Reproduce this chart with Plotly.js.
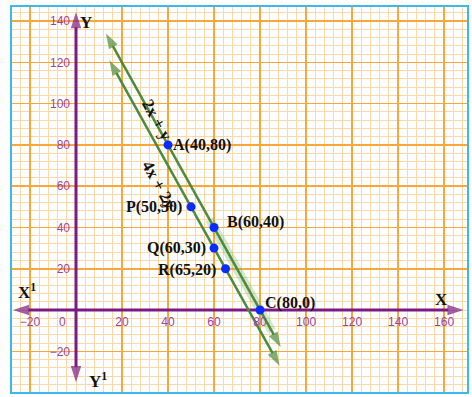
<!DOCTYPE html>
<html><head><meta charset="utf-8">
<script src="https://cdn.plot.ly/plotly-3.0.1.min.js"></script>
<style>html,body{margin:0;padding:0;background:#fff}</style>
</head><body><div id="chart" style="width:472px;height:397px"></div>
<script>
// ---- data ----
const pointNames = ['A', 'P', 'B', 'Q', 'R', 'C'];
const pointX = [40, 50, 60, 60, 65, 80];
const pointY = [80, 50, 40, 30, 20, 0];
// line 1: 2x + y = 160, line 2: 4x + 2y = 300 (drawn end points)
const line1X = [13, 89];
const line1Y = [134, -18];
const line2X = [14.5, 88.5];
const line2Y = [121, -27];
// faint highlight along line 1 between B and past C
const glowX = [58, 85];
const glowY = [44, -10];
const lineLabels = ['2x + y', '4x + 2y'];
const xTickVals = [-20, 20, 40, 60, 80, 100, 120, 140, 160];
const yTickVals = [-20, 20, 40, 60, 80, 100, 120, 140];
const xAxisEnds = [-27.4, 168.5];
const yAxisEnds = [-35, 144.4];

// ---- style / layout ----
const xr = [-28.26, 170.4], yr = [-40.2, 147.3];
const purple = '#7b1a82', tickPurple = '#9a44a4', green = '#4b8b3b', blue = '#0a2dff';
const serif = 'Liberation Serif, Times New Roman, serif';
// label placement (xanchor, xshift, yshift) per point
const labelAnchor = ['left', 'right', 'left', 'right', 'right', 'left'];
const labelXShift = [3, -7, 11, -6, -8, 3];
const labelYShift = [0, 0, 5, 0, -1, 7];

function arrowTrace(x0, y0, x1, y1, color, width, size) {
  return {
    type: 'scatter', mode: 'lines+markers', x: [x0, x1], y: [y0, y1],
    line: {color: color, width: width},
    marker: {symbol: 'arrow', size: [0, size], angleref: 'previous', color: color, line: {width: 0}},
    hoverinfo: 'skip', showlegend: false, cliponaxis: false
  };
}

const traces = [];
// faint glow
traces.push({type: 'scatter', mode: 'lines', x: glowX, y: glowY,
  line: {color: 'rgba(110,180,100,0.30)', width: 9}, hoverinfo: 'skip', showlegend: false});
// axes
traces.push(arrowTrace(0, 0, xAxisEnds[0], 0, purple, 3, 17));
traces.push(arrowTrace(0, 0, xAxisEnds[1], 0, purple, 3, 17));
traces.push(arrowTrace(0, 0, 0, yAxisEnds[0], purple, 3, 17));
traces.push(arrowTrace(0, 0, 0, yAxisEnds[1], purple, 3, 17));
// green lines with arrow heads at both ends
[[line1X, line1Y], [line2X, line2Y]].forEach(function (l) {
  const mx = (l[0][0] + l[0][1]) / 2, my = (l[1][0] + l[1][1]) / 2;
  traces.push(arrowTrace(mx, my, l[0][0], l[1][0], green, 2.5, 16));
  traces.push(arrowTrace(mx, my, l[0][1], l[1][1], green, 2.5, 16));
});
// points
traces.push({
  type: 'scatter', mode: 'markers', x: pointX, y: pointY,
  marker: {color: blue, size: 9}, hoverinfo: 'skip', showlegend: false, cliponaxis: false
});

const labelFont = {family: serif, size: 16, color: '#111', weight: 'bold'};
const annotations = pointNames.map(function (n, i) {
  return {
    x: pointX[i], y: pointY[i], xref: 'x', yref: 'y', showarrow: false,
    text: n + '(' + pointX[i] + ',' + pointY[i] + ')',
    xanchor: labelAnchor[i], xshift: labelXShift[i], yshift: labelYShift[i],
    font: labelFont
  };
});
// line labels
annotations.push({x: 35.4, y: 92, text: lineLabels[0], textangle: 61, showarrow: false,
  font: {family: serif, size: 17, color: '#111', weight: 'bold'}});
annotations.push({x: 36.3, y: 60.5, text: lineLabels[1], textangle: 61, showarrow: false,
  font: {family: serif, size: 17, color: '#111', weight: 'bold'}});
// axis names
const axFont = {family: serif, size: 17, color: '#111', weight: 'bold'};
annotations.push({x: 158.7, y: 5, text: 'X', showarrow: false, font: axFont});
annotations.push({x: 4.5, y: 139.5, text: 'Y', showarrow: false, font: axFont});
annotations.push({x: -21.5, y: 9, text: 'X<sup>1</sup>', showarrow: false, font: axFont});
annotations.push({x: 9.5, y: -34, text: 'Y<sup>1</sup>', showarrow: false, font: axFont});
annotations.push({x: -5.7, y: -5.8, text: '0', showarrow: false,
  font: {family: 'Liberation Sans, Arial, sans-serif', size: 12, color: tickPurple}});

const layout = {
  width: 472, height: 397,
  margin: {l: 11, r: 4, t: 6, b: 4, pad: 0},
  paper_bgcolor: '#fff', plot_bgcolor: '#fff',
  showlegend: false, hovermode: false,
  font: {family: 'Liberation Sans, Arial, sans-serif', size: 12, color: tickPurple},
  xaxis: {
    range: xr, anchor: 'free', position: (0 - yr[0]) / (yr[1] - yr[0]),
    tickmode: 'array', tickvals: xTickVals, ticks: '', ticklabelstandoff: 3,
    showgrid: true, gridcolor: '#f8a73a', gridwidth: 1.5, zeroline: false, showline: false,
    minor: {dtick: 4, tick0: 0, showgrid: true, gridcolor: '#fcd8a8', gridwidth: 1},
    tickfont: {color: tickPurple, size: 12}, fixedrange: true
  },
  yaxis: {
    range: yr, anchor: 'free', position: (0 - xr[0]) / (xr[1] - xr[0]),
    tickmode: 'array', tickvals: yTickVals, ticks: '', ticklabelstandoff: 6,
    showgrid: true, gridcolor: '#f8a73a', gridwidth: 1.5, zeroline: false, showline: false,
    minor: {dtick: 4, tick0: 0, showgrid: true, gridcolor: '#fcd8a8', gridwidth: 1},
    tickfont: {color: tickPurple, size: 12}, fixedrange: true
  },
  shapes: [{type: 'rect', xref: 'paper', yref: 'paper', x0: 0, x1: 1, y0: 0, y1: 1,
    line: {color: '#3bb8ee', width: 2}, layer: 'above'}],
  annotations: annotations
};

Plotly.newPlot('chart', traces, layout, {staticPlot: true, displayModeBar: false});
</script>
</body></html>
